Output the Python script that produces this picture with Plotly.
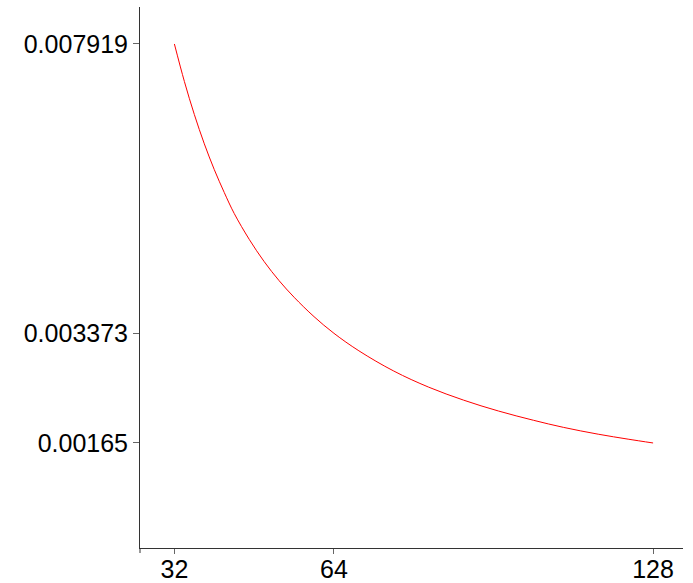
import plotly.graph_objects as go

# curve values
x_vals = [32, 34, 36, 38, 40, 42, 44, 47, 50, 53, 56, 60, 64,
          69, 76, 83, 90, 97, 104, 110, 117, 123, 128]
y_vals = [0.007919, 0.007330, 0.006810, 0.006350, 0.005945, 0.005585, 0.005255,
          0.004850, 0.004500, 0.004200, 0.003940, 0.003635, 0.003373,
          0.003098, 0.002780, 0.002527, 0.002323, 0.002152, 0.002007,
          0.001896, 0.001788, 0.001710, 0.001650]

x_ticks = [32, 64, 128]
x_tick_labels = ["32", "64", "128"]
y_ticks = [0.00165, 0.003373, 0.007919]
y_tick_labels = ["0.00165", "0.003373", "0.007919"]

fig = go.Figure()
fig.add_trace(go.Scatter(x=x_vals, y=y_vals, mode="lines",
                         line=dict(color="#ff0000", width=1, shape="spline", smoothing=1),
                         hoverinfo="skip", showlegend=False))

font = dict(family="Liberation Sans, Arial, sans-serif", size=25, color="black")

fig.update_layout(
    width=693, height=583,
    margin=dict(l=140, r=10, t=7, b=35),
    paper_bgcolor="white", plot_bgcolor="white",
    font=font,
    showlegend=False,
    xaxis=dict(range=[25.1, 134], tickvals=x_ticks, ticktext=x_tick_labels,
               showgrid=False, zeroline=False, showline=True, linecolor="#333333",
               linewidth=1, ticks="outside", ticklen=5, tickcolor="#666666",
               tickfont=font, automargin=False, ticklabelstandoff=-6),
    yaxis=dict(range=[0, 0.0085], tickvals=y_ticks, ticktext=y_tick_labels,
               showgrid=False, zeroline=False, showline=True, linecolor="#333333",
               linewidth=1, ticks="outside", ticklen=6, tickcolor="#666666",
               tickfont=font, automargin=False),
)
# small extension of the vertical axis below the horizontal axis
fig.add_shape(type="line", xref="paper", yref="paper", x0=0, x1=0,
              y0=0, y1=-5 / 541, line=dict(color="#333333", width=1))

fig.write_html("out.html")
